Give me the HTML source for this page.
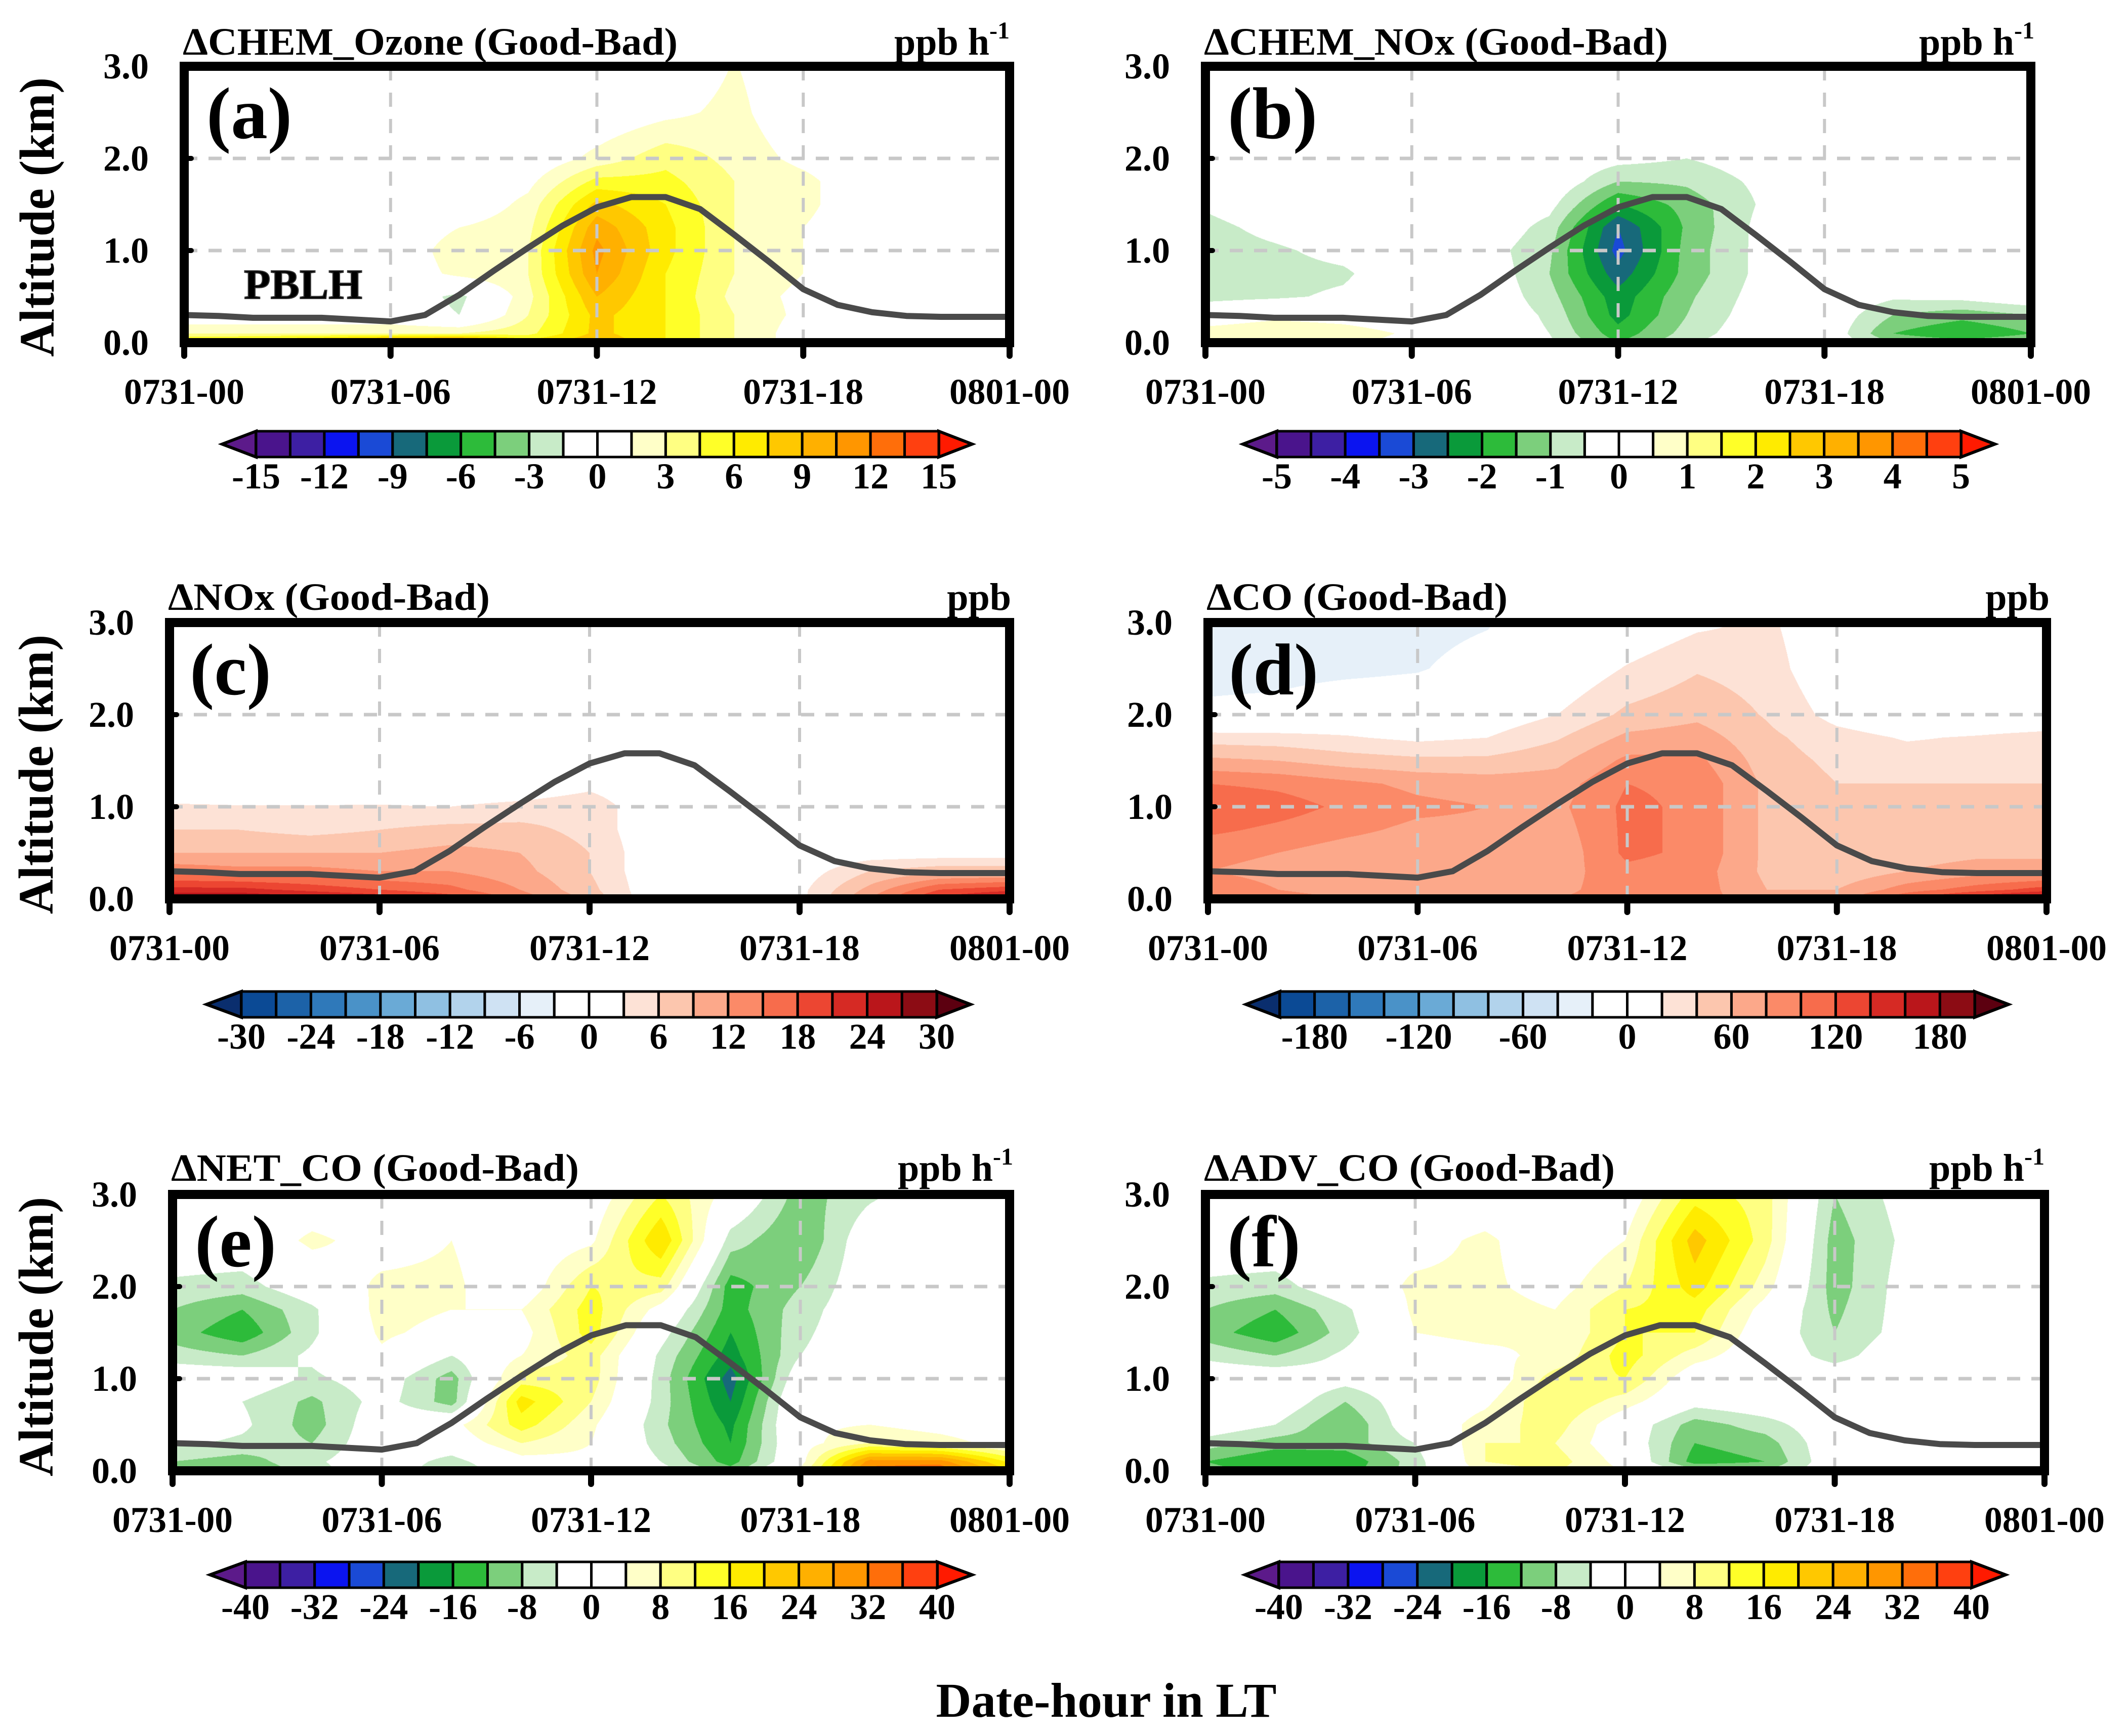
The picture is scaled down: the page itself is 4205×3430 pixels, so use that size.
<!DOCTYPE html>
<html><head><meta charset="utf-8">
<style>
html,body{margin:0;padding:0;background:#fff;}
#page{position:relative;width:4205px;height:3430px;background:#fff;overflow:hidden;}
canvas{position:absolute;}
svg{position:absolute;left:0;top:0;}
text{font-family:"Liberation Serif","Times New Roman",serif;font-weight:bold;fill:#000;}
</style></head>
<body>
<div id="page">
<svg id="svg" width="4205" height="3430" viewBox="0 0 4205 3430"></svg>
</div>
<script>
// ---- data ----
const hours = [0,2,4,6,8,10,12,14,16,18,20,22,24];
const altitudes = [0,0.1,0.3,0.5,0.75,1.0,1.25,1.5,1.75,2.0,2.5,3.0];
const pblHours = [0,1,2,3,4,5,6,7,8,9,10,11,12,13,14,15,16,17,18,19,20,21,22,23,24];
const pblh = [0.30,0.29,0.27,0.27,0.27,0.25,0.23,0.30,0.52,0.78,1.03,1.27,1.47,1.58,1.58,1.45,1.17,0.88,0.58,0.41,0.33,0.29,0.28,0.28,0.28];
const xTickLabels = ["0731-00","0731-06","0731-12","0731-18","0801-00"];
const xTickHours = [0,6,12,18,24];
const yTickLabels = ["0.0","1.0","2.0","3.0"];
const yTickValues = [0,1,2,3];

const fieldA = [
[7,8,10,13,14,7,9,6,3,0.5,-0.5,-1,0],
[3,3,3,3,3,4,8,6,3,0.5,0,-1,0],
[0,0,0,0,-1.5,3,8,6,3,1,0,0,0],
[0,0,0,0,-2,2.5,9,6,2.5,1,0,0,0],
[0,0,0,0,2,3,10.5,6,3,1.5,0,0,0],
[0,0,0,0,2.5,3,11,6.5,3,1.5,0,0,0],
[0,0,0,0,1.5,2.5,10,6.5,3,1.5,0,0,0],
[0,0,0,0,0,2,8,6,3,2,0,0,0],
[0,0,0,0,0,1,5,5,3,2,0,0,0],
[0,0,0,0,0,0,2,4,2.5,1,0,0,0],
[0,0,0,0,0,0,0,1,2,0,0,0,0],
[0,0,0,0,0,0,0,0,1.6,0,0,0,0]];
const fieldB = [
[0.7,0.8,0.6,0.3,0,-0.4,-1.5,-0.6,0,0,-1,-1.2,-1],
[0.8,1.0,0.8,0.4,0,-0.5,-1.8,-0.8,-0.1,0,-1.5,-2,-1.5],
[0,0.3,0.2,0,0,-0.6,-2.2,-1.0,-0.2,0,-1,-1.3,-1],
[-0.7,-0.6,-0.4,0,0,-0.8,-2.3,-1.1,-0.3,0,-0.4,-0.3,0],
[-0.8,-0.7,-0.6,0,0,-1.0,-2.8,-1.3,-0.4,0,0,0,0],
[-0.8,-0.6,-0.3,0,-0.2,-0.9,-3.2,-1.3,-0.4,0,0,0,0],
[-0.7,-0.3,0,0,0,-0.7,-3,-1.4,-0.4,0,0,0,0],
[-0.4,0,0,0,0,-0.3,-2,-1.3,-0.5,0,0,0,0],
[0,0,0,0,0,0,-1,-0.9,-0.4,0,0,0,0],
[0,0,0,0,0,0,-0.3,-0.5,-0.2,0,0,0,0],
[0,0,0,0,0,0,0,0,0,0,0,0,0],
[0,0,0,0,0,0,0,0,0,0,0,0,0]];
const fieldC = [
[28,28,26,24,20,14,8,0,0,2,12,22,27],
[22,22,20,18,16,12,7,0,0,2,10,18,20],
[14,13,13,12,12,10,6,0,0,1,6,8,8],
[9,9,9,9,10,9,6,0,0,0,1,1,1],
[6,6,5,6,7,7,5,0,0,0,0,0,0],
[3.5,3.2,3.2,3.3,3,4,5,0,0,0,0,0,0],
[0,0,0,0,0,0,2,0,0,0,0,0,0],
[0,0,0,0,0,0,0,0,0,0,0,0,0],
[0,0,0,0,0,0,0,0,0,0,0,0,0],
[0,0,0,0,0,0,0,0,0,0,0,0,0],
[0,0,0,0,0,0,0,0,0,0,0,0,0],
[0,0,0,0,0,0,0,0,0,0,0,0,0]];
const fieldD = [
[110,90,80,80,70,80,90,90,65,70,120,160,190],
[90,80,70,70,65,75,90,90,60,60,90,110,130],
[80,75,65,60,60,70,95,90,55,45,60,70,70],
[85,80,70,65,65,65,105,95,55,40,50,55,55],
[105,95,85,75,75,70,105,95,55,40,45,50,50],
[120,110,95,85,80,75,105,95,55,40,40,45,45],
[100,95,85,75,70,70,100,95,55,40,40,40,40],
[65,60,50,45,45,55,85,85,50,35,30,30,35],
[30,28,22,15,20,38,65,70,45,28,18,22,28],
[-15,-12,0,0,5,20,45,55,38,12,0,0,0],
[-28,-28,-26,-22,-10,0,22,38,30,0,0,0,0],
[-30,-30,-30,-28,-22,0,0,15,24,0,0,0,0]];
const fieldE = [
[-10,-12,-6,0,-8,0,2,-2,-10,5,34,36,20],
[-8,-10,-5,0,-6,2,3,-4,-14,2,30,30,15],
[-3,-5,-8,0,0,8,4,-6,-16,2,8,6,2],
[0,-3,-10,0,2,14,5,-7,-17,3,4,2,0],
[0,-4,-9,-2,-10,18,8,-6,-20,3,2,0,0],
[0,0,-5,-1,-10,10,10,-6,-22,0,0,0,0],
[-6,-8,-3,3,-4,4,10,-5,-18,-4,0,0,0],
[-10,-15,-5,5,2,2,14,-2,-16,-5,0,0,0],
[-8,-12,-5,6,4,4,14,2,-14,-6,0,3,0],
[-5,-6,0,5,5,0,12,10,-14,-8,0,0,0],
[0,0,5,2,4,0,3,20,-6,-12,0,0,0],
[0,0,0,0,0,0,0,12,2,-10,-5,0,0]];
const fieldF = [
[-10,-14,-14,-6,6,8,4,-6,-8,0,0,2,2],
[-12,-16,-15,-6,8,10,2,-14,-12,0,0,0,0],
[-6,-10,-10,-4,8,8,0,-12,-10,0,0,0,0],
[0,-4,-12,0,6,10,0,-10,-6,0,0,0,0],
[0,0,-8,0,3,12,6,-2,0,0,0,0,2],
[0,0,-2,0,0,10,12,0,0,0,0,0,0],
[-5,-8,-3,2,3,5,14,6,0,-6,0,0,0],
[-10,-15,-6,4,5,4,12,12,0,-8,-2,3,0],
[-8,-12,-5,5,6,4,12,14,2,-9,-2,4,0],
[-5,-6,0,5,5,2,8,18,6,-10,-2,0,0],
[0,0,3,2,5,0,4,22,10,-10,-3,0,0],
[0,0,0,0,0,0,0,14,10,-8,-2,0,0]];

const cbLabelsA = [-15,-12,-9,-6,-3,0,3,6,9,12,15];
const cbLabelsB = [-5,-4,-3,-2,-1,0,1,2,3,4,5];
const cbLabelsC = [-30,-24,-18,-12,-6,0,6,12,18,24,30];
const cbLabelsD = [-180,-120,-60,0,60,120,180];
const cbLabelsE = [-40,-32,-24,-16,-8,0,8,16,24,32,40];
const cbLabelsF = [-40,-32,-24,-16,-8,0,8,16,24,32,40];

const warmColors = ["#4a148c","#3d1fa3","#0b14f0","#1a4ad6","#17697a","#0a9a3a","#2dbb3a","#7ccf7c","#c8ebc8","#ffffff","#ffffff","#ffffc8","#ffff82","#ffff28","#ffeb00","#ffc800","#ffb000","#ff9600","#ff6e0a","#ff4010"];
const warmExt = ["#5c1a8a","#ff1a00"];
const brColors = ["#0b4a95","#1c62a8","#2f79ba","#4a92c8","#6aaad6","#8fc0e2","#b2d3ec","#cfe2f3","#e6f0f9","#ffffff","#ffffff","#fde2d6","#fcc6ae","#fca88a","#fb8a68","#f76c4c","#ec4632","#d62a24","#ba161b","#8c0c14"];
const brExt = ["#0a2e6e","#5c0010"];

const panels = [
 {id:'a',field:fieldA,vmin:-15,step:1.5,cm:warmColors,ext:warmExt,x0:364,x1:1995,yT:131,yB:677,title:'ΔCHEM_Ozone (Good-Bad)',tw:978,tb:108,unit:'ppb h',sup:'-1',ux:1995,cb:[439,506,1855,1921],cby:852,cbl:cbLabelsA,lx:408},
 {id:'b',field:fieldB,vmin:-5,step:0.5,cm:warmColors,ext:warmExt,x0:2382,x1:4013,yT:131,yB:677,title:'ΔCHEM_NOx (Good-Bad)',tw:917,tb:108,unit:'ppb h',sup:'-1',ux:4020,cb:[2456,2523,3875,3942],cby:852,cbl:cbLabelsB,lx:2426},
 {id:'c',field:fieldC,vmin:-30,step:3,cm:brColors,ext:brExt,x0:335,x1:1995,yT:1230,yB:1776,title:'ΔNOx (Good-Bad)',tw:636,tb:1205,unit:'ppb',sup:'',ux:1998,cb:[408,477,1851,1918],cby:1959,cbl:cbLabelsC,lx:375},
 {id:'d',field:fieldD,vmin:-200,step:20,cm:brColors,ext:brExt,x0:2387,x1:4044,yT:1230,yB:1776,title:'ΔCO (Good-Bad)',tw:595,tb:1205,unit:'ppb',sup:'',ux:4050,cb:[2462,2529,3902,3969],cby:1959,cbl:cbLabelsD,lx:2428},
 {id:'e',field:fieldE,vmin:-40,step:4,cm:warmColors,ext:warmExt,x0:341,x1:1995,yT:2360,yB:2906,title:'ΔNET_CO (Good-Bad)',tw:806,tb:2333,unit:'ppb h',sup:'-1',ux:2002,cb:[415,485,1852,1921],cby:3086,cbl:cbLabelsE,lx:385},
 {id:'f',field:fieldF,vmin:-40,step:4,cm:warmColors,ext:warmExt,x0:2382,x1:4040,yT:2360,yB:2906,title:'ΔADV_CO (Good-Bad)',tw:812,tb:2333,unit:'ppb h',sup:'-1',ux:4040,cb:[2460,2527,3896,3963],cby:3086,cbl:cbLabelsF,lx:2425}
];

const NS='http://www.w3.org/2000/svg';
const FONT='"Liberation Serif","Times New Roman",serif';
const svg=document.getElementById('svg');
const page=document.getElementById('page');
function mk(tag,attrs,parent){const e=document.createElementNS(NS,tag);for(const k in attrs)e.setAttribute(k,attrs[k]);if(tag==='text'){e.setAttribute('font-family',FONT);e.setAttribute('font-weight','bold');}(parent||svg).appendChild(e);return e;}
function hex(c){return [parseInt(c.substr(1,2),16),parseInt(c.substr(3,2),16),parseInt(c.substr(5,2),16)];}

function sample(field,h,z){
  let i=Math.min(Math.floor(h/2),hours.length-2); let t=(h-hours[i])/(hours[i+1]-hours[i]);
  let j=0; while(j<altitudes.length-2 && z>altitudes[j+1]) j++;
  let u=(z-altitudes[j])/(altitudes[j+1]-altitudes[j]); u=Math.max(0,Math.min(1,u));
  const a=field[j][i],b=field[j][i+1],c=field[j+1][i],d=field[j+1][i+1];
  return (a*(1-t)+b*t)*(1-u)+(c*(1-t)+d*t)*u;
}

panels.forEach(p=>{
  const W=p.x1-p.x0, H=p.yB-p.yT;
  const xs=h=>p.x0+h/24*W, ys=z=>p.yB-z/3*H;
  const cv=document.createElement('canvas');
  
  
  cv.width=W;cv.height=H;cv.style.left=p.x0+'px';cv.style.top=p.yT+'px';
  page.insertBefore(cv,svg);
  const ctx=cv.getContext('2d');const img=ctx.createImageData(W,H);
  const pal=p.cm.map(hex), e0=hex(p.ext[0]), e1=hex(p.ext[1]);
  for(let py=0;py<H;py++){const z=3*(1-(py+0.5)/H);
    for(let px=0;px<W;px++){const h=24*(px+0.5)/W;
      const v=sample(p.field,h,z);let k=Math.floor((v-p.vmin)/p.step);
      const col=k<0?e0:(k>=20?e1:pal[k]);const o=(py*W+px)*4;
      img.data[o]=col[0];img.data[o+1]=col[1];img.data[o+2]=col[2];img.data[o+3]=255;}}
  ctx.putImageData(img,0,0);

  const g=mk('g',{});
  
  
  [6,12,18].forEach(h=>{const l=mk('line',{x1:xs(h),x2:xs(h),y1:p.yT,y2:p.yB,stroke:'#c8c8c8','stroke-width':6,'stroke-dasharray':'28 24'},g);
    
    });
  [1,2].forEach(z=>{const l=mk('line',{x1:p.x0,x2:p.x1,y1:ys(z),y2:ys(z),stroke:'#c8c8c8','stroke-width':7,'stroke-dasharray':'26 22'},g);
    
    });
  const pts=pblHours.map((h,i)=>xs(h).toFixed(1)+','+ys(pblh[i]).toFixed(1)).join(' ');
  const pl=mk('polyline',{points:pts,fill:'none',stroke:'#4a4a4a','stroke-width':12,'stroke-linejoin':'round'},g);
  
  
  const bx=mk('rect',{x:p.x0,y:p.yT,width:W,height:H,fill:'none',stroke:'#000','stroke-width':18},g);
  
  
  xTickHours.forEach((h,i)=>{
    const t=mk('line',{x1:xs(h),x2:xs(h),y1:p.yB,y2:p.yB+26,stroke:'#000','stroke-width':12,'stroke-linecap':'round'},g);
    
    
    const tx=mk('text',{x:xs(h),y:p.yB+121,'font-size':72,'text-anchor':'middle',textLength:238,lengthAdjust:'spacingAndGlyphs'},g);
    tx.textContent=xTickLabels[i];
    
    
  });
  yTickValues.forEach((z,i)=>{
    if(z===1||z===2){const t=mk('line',{x1:p.x0,x2:p.x0+14,y1:ys(z),y2:ys(z),stroke:'#000','stroke-width':10,'stroke-linecap':'round'},g);
      
      }
    const tx=mk('text',{x:p.x0-70,y:ys(z)+24,'font-size':72,'text-anchor':'end'},g);
    tx.textContent=yTickLabels[i];
    
    
  });
  const tt=mk('text',{x:p.x0-3,y:p.tb,'font-size':76,textLength:p.tw,lengthAdjust:'spacingAndGlyphs'},g);
  tt.textContent=p.title;
  
  
  const ut=mk('text',{x:p.ux,y:p.tb,'font-size':76,'text-anchor':'end'},g);
  ut.textContent=p.unit;
  if(p.sup){const s=mk('tspan',{dy:-32,'font-size':48},ut);s.textContent=p.sup;}
  
  
  const lb=mk('text',{x:p.lx,y:p.yT+142,'font-size':145},g);
  lb.textContent='('+p.id+')';
  
  
  const [tl,b0,b1,tr]=p.cb, cy=p.cby, ch=51, bw=(b1-b0)/20;
  const cg=mk('g',{},g);
  
  
  const la=mk('polygon',{points:`${b0},${cy} ${tl},${cy+ch/2} ${b0},${cy+ch}`,fill:p.ext[0],stroke:'#000','stroke-width':6},cg);
  
  
  const ra=mk('polygon',{points:`${b1},${cy} ${tr},${cy+ch/2} ${b1},${cy+ch}`,fill:p.ext[1],stroke:'#000','stroke-width':6},cg);
  
  
  p.cm.forEach((c,k)=>{const r=mk('rect',{x:b0+k*bw,y:cy,width:bw,height:ch,fill:c,stroke:'#000','stroke-width':5},cg);
    
    });
  p.cbl.forEach(v=>{const k=(v-p.vmin)/p.step;const t=mk('text',{x:b0+k*bw,y:cy+113,'font-size':72,'text-anchor':'middle'},cg);
    t.textContent=String(v);
    
    });
});

const pb=mk('text',{x:482,y:590,'font-size':84,fill:'#555',stroke:'#333','stroke-width':2,textLength:234,lengthAdjust:'spacingAndGlyphs'});
pb.textContent='PBLH';


[[74,429],[72,1530],[72,2641]].forEach(([x,y])=>{
  const t=mk('text',{x:x+32,y:y,'font-size':98,'text-anchor':'middle',transform:`rotate(-90 ${x+32} ${y})`,textLength:552,lengthAdjust:'spacingAndGlyphs'});
  t.textContent='Altitude (km)';
  
  
});
const xt=mk('text',{x:2186,y:3392,'font-size':96,'text-anchor':'middle',textLength:673,lengthAdjust:'spacingAndGlyphs'});
xt.textContent='Date-hour in LT';


</script>
</body></html>
